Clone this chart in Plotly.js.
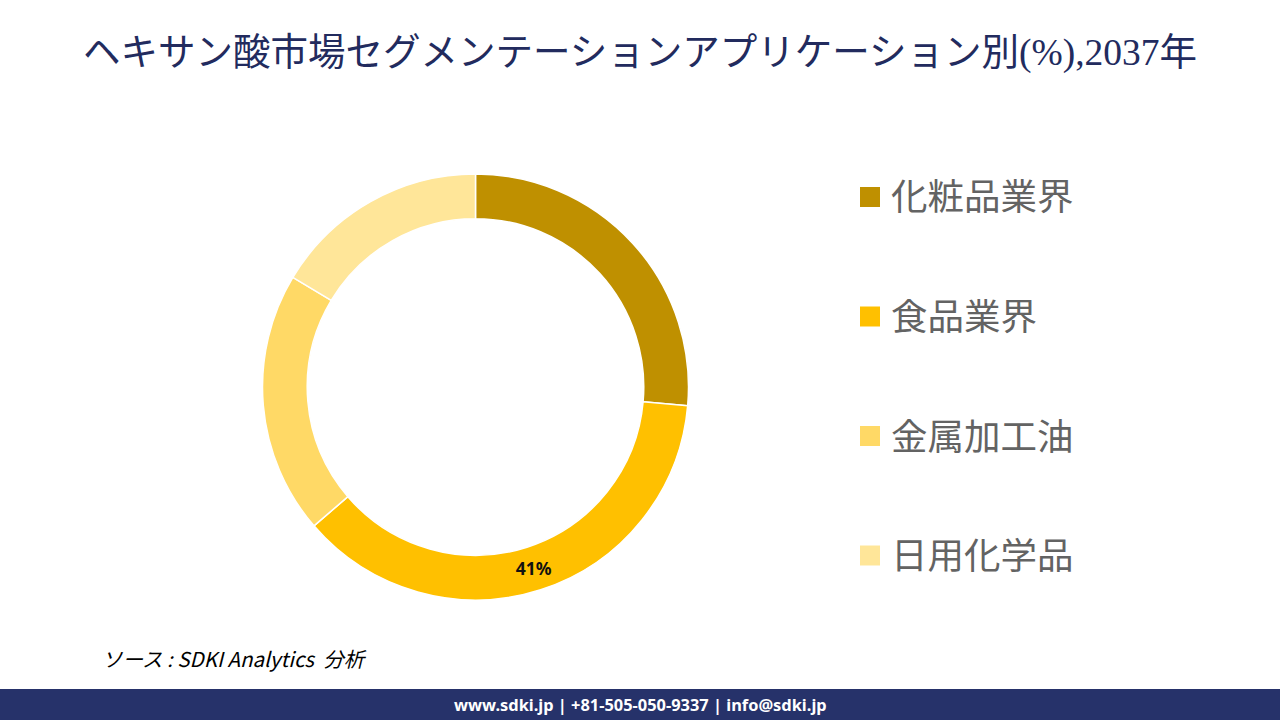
<!DOCTYPE html>
<html>
<head>
<meta charset="utf-8">
<script src="https://cdn.plot.ly/plotly-3.0.1.min.js"></script>
<style>
html,body{margin:0;padding:0;background:#fff;}
#chart{width:1280px;height:720px;}
</style>
</head>
<body>
<div id="chart"></div>
<script>
// Data
const categories = ['化粧品業界', '食品業界', '金属加工油', '日用化学品'];
const shares = [26.4, 37.3, 19.9, 16.4];
const sliceLabels = ['', '41%', '', ''];
const colors = ['#BF9000', '#FFC000', '#FFD966', '#FFE699'];
const titleText = 'ヘキサン酸市場セグメンテーションアプリケーション別(%),2037年';
const sourceText = 'ソース : SDKI Analytics  分析';
const footerText = 'www.sdki.jp | +81-505-050-9337 | info@sdki.jp';

const W = 1280, H = 720;
const cx = 475.5, cy = 387, R = 213;

const trace = {
  type: 'pie',
  labels: categories,
  values: shares,
  text: sliceLabels,
  textinfo: 'text',
  textposition: 'inside',
  insidetextorientation: 'horizontal',
  textfont: {family: 'Noto Sans, sans-serif', size: 17.5, color: '#111', weight: 'bold'},
  hole: 0.79,
  sort: false,
  direction: 'clockwise',
  rotation: 0,
  marker: {colors: colors, line: {color: '#ffffff', width: 1.5}},
  domain: {x: [(cx - R) / W, (cx + R) / W], y: [(H - cy - R) / H, (H - cy + R) / H]},
  showlegend: false,
  hoverinfo: 'label+percent'
};

// Custom legend built from the arrays
const legendTop = 197, legendStep = 119.5;
const shapes = [];
const annotations = [];
categories.forEach((c, i) => {
  const y = legendTop + i * legendStep;
  shapes.push({
    type: 'rect', xref: 'paper', yref: 'paper',
    x0: 860 / W, x1: 880 / W, y0: 1 - (y + 10) / H, y1: 1 - (y - 10) / H,
    fillcolor: colors[i], line: {width: 0}
  });
  annotations.push({
    xref: 'paper', yref: 'paper', x: 889 / W, y: 1 - (y - 2) / H,
    xanchor: 'left', yanchor: 'middle', showarrow: false,
    text: c, font: {family: 'Noto Sans CJK JP, sans-serif', size: 36.5, color: '#636363'}
  });
});

// Footer bar
shapes.push({
  type: 'rect', xref: 'paper', yref: 'paper',
  x0: 0, x1: 1, y0: 0, y1: 31 / H,
  fillcolor: '#26326A', line: {width: 0}, layer: 'below'
});
annotations.push({
  xref: 'paper', yref: 'paper', x: 0.5, y: 1 - 704 / H,
  xanchor: 'center', yanchor: 'middle', showarrow: false,
  text: '<b>' + footerText + '</b>',
  font: {family: 'Noto Sans, sans-serif', size: 16.4, color: '#ffffff'}
});
// Source
annotations.push({
  xref: 'paper', yref: 'paper', x: 100 / W, y: 1 - 658 / H,
  xanchor: 'left', yanchor: 'middle', showarrow: false,
  text: '<i>' + sourceText + '</i>',
  font: {family: 'Noto Sans CJK JP, sans-serif', size: 20.5, color: '#000000'}
});

const layout = {
  width: W, height: H,
  margin: {l: 0, r: 0, t: 0, b: 0},
  paper_bgcolor: '#ffffff',
  title: {
    text: titleText,
    x: 0.5, xanchor: 'center', xref: 'paper',
    y: 1 - 52 / H, yanchor: 'middle', yref: 'paper',
    font: {family: 'Liberation Serif, Noto Sans CJK JP, serif', size: 37.5, color: '#222B5E'}
  },
  shapes: shapes,
  annotations: annotations,
  showlegend: false
};

Plotly.newPlot('chart', [trace], layout, {displayModeBar: false, staticPlot: true});
</script>
</body>
</html>
